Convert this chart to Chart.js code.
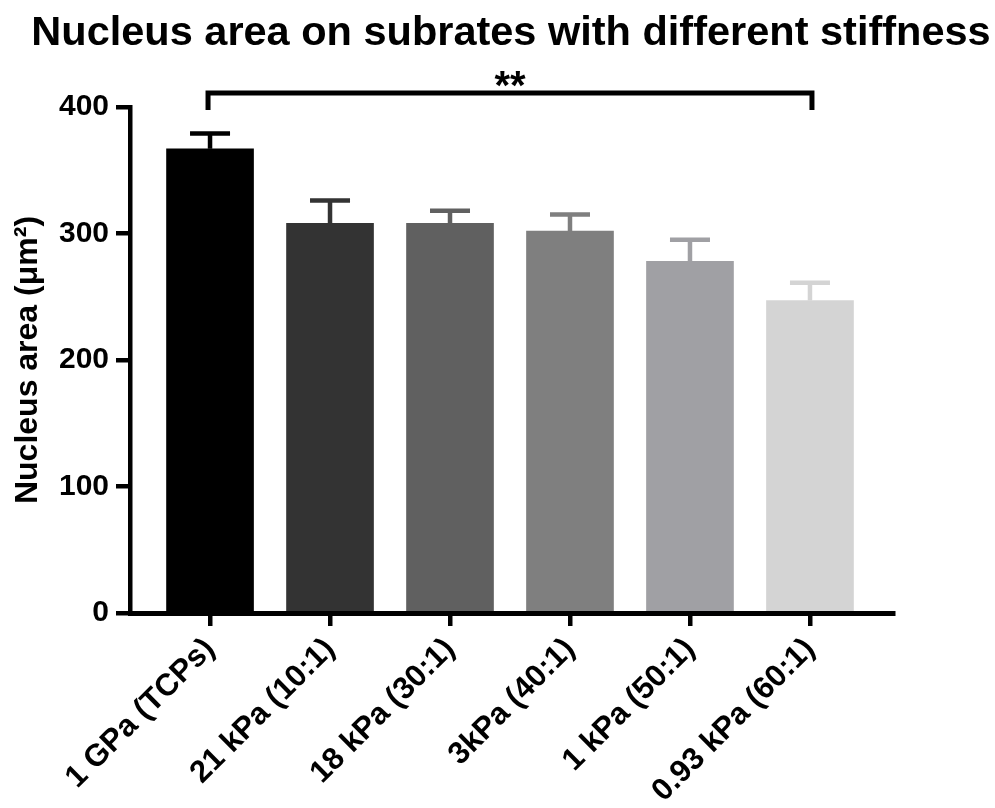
<!DOCTYPE html>
<html>
<head>
<meta charset="utf-8">
<script src="https://cdn.jsdelivr.net/npm/chart.js@4.4.1/dist/chart.umd.min.js"></script>
<style>
  html, body { margin: 0; padding: 0; background: #fff; }
  #wrap { width: 995px; height: 808px; }
</style>
</head>
<body>
<div id="wrap"><canvas id="chart"></canvas></div>
<script>
const categories = ['1 GPa (TCPs)', '21 kPa (10:1)', '18 kPa (30:1)', '3kPa (40:1)', '1 kPa (50:1)', '0.93 kPa (60:1)'];
const means = [367, 308, 308, 302, 278, 247];
const errors = [12, 18, 10, 13, 17, 14];
const barColors = ['#000000', '#333333', '#606060', '#7f7f7f', '#a0a0a4', '#d4d4d4'];
const yTicks = [0, 100, 200, 300, 400];
const bracket = { from: 0, to: 5, label: '**' };

const FONT = "'Liberation Sans', Arial, Helvetica, sans-serif";

// error bars, significance bracket and title
const extras = {
  id: 'extras',
  afterDatasetsDraw(chart) {
    const ctx = chart.ctx;
    const x = chart.scales.x;
    const y = chart.scales.y;
    ctx.save();
    ctx.lineWidth = 4.5;
    ctx.lineCap = 'butt';
    means.forEach((m, i) => {
      const px = x.getPixelForValue(i);
      const top = y.getPixelForValue(m + errors[i]);
      const base = y.getPixelForValue(m);
      ctx.strokeStyle = barColors[i];
      ctx.beginPath();
      ctx.moveTo(px, base);
      ctx.lineTo(px, top);
      ctx.moveTo(px - 20, top);
      ctx.lineTo(px + 20, top);
      ctx.stroke();
    });

    // bracket
    const x1 = x.getPixelForValue(bracket.from) - 2;
    const x2 = x.getPixelForValue(bracket.to) + 2;
    const by = 93;
    ctx.strokeStyle = '#000';
    ctx.lineWidth = 5;
    ctx.beginPath();
    ctx.moveTo(x1, 110);
    ctx.lineTo(x1, by);
    ctx.lineTo(x2, by);
    ctx.lineTo(x2, 110);
    ctx.stroke();

    ctx.fillStyle = '#000';
    ctx.textAlign = 'center';
    ctx.textBaseline = 'alphabetic';
    ctx.font = 'bold 40px ' + FONT;
    ctx.fillText(bracket.label, (x1 + x2) / 2, 99);

    ctx.font = 'bold 41.5px ' + FONT;
    ctx.fillText('Nucleus area on subrates with different stiffness', 511, 45);
    ctx.restore();
  }
};

new Chart(document.getElementById('chart'), {
  type: 'bar',
  data: {
    datasets: [{
      data: means.map((m, i) => ({ x: i, y: m })),
      backgroundColor: barColors,
      borderWidth: 0,
      barThickness: 87
    }]
  },
  options: {
    responsive: true,
    maintainAspectRatio: false,
    animation: false,
    layout: { padding: { top: 107, right: 102, left: 0, bottom: 0 } },
    plugins: {
      legend: { display: false },
      tooltip: { enabled: false },
      title: { display: false }
    },
    scales: {
      x: {
        type: 'linear',
        offset: false,
        min: -0.667,
        max: 5.692,
        afterBuildTicks(scale) {
          scale.ticks = categories.map((c, i) => ({ value: i }));
        },
        afterFit(scale) { scale.height = 195; },
        grid: { display: true, offset: false, drawOnChartArea: false, drawTicks: true, tickLength: 13, lineWidth: 4.5, color: '#000' },
        border: { display: true, width: 5, color: '#000' },
        ticks: {
          autoSkip: false,
          minRotation: 45,
          maxRotation: 45,
          padding: 5,
          color: '#000',
          font: { family: FONT, size: 31, weight: 'bold' },
          callback: (v) => categories[v]
        }
      },
      y: {
        min: 0,
        max: 400,
        afterBuildTicks(scale) {
          scale.ticks = yTicks.map(v => ({ value: v }));
        },
        afterFit(scale) { scale.width = 130; },
        grid: { display: true, drawOnChartArea: false, drawTicks: true, tickLength: 14, lineWidth: 4.5, color: '#000' },
        border: { display: true, width: 4.5, color: '#000' },
        ticks: {
          padding: 7,
          color: '#000',
          font: { family: FONT, size: 30, weight: 'bold' }
        },
        title: {
          display: true,
          text: 'Nucleus area (μm²)',
          color: '#000',
          font: { family: FONT, size: 32, weight: 'bold' },
          padding: { top: 9, bottom: 0 }
        }
      }
    }
  },
  plugins: [extras]
});
</script>
</body>
</html>
